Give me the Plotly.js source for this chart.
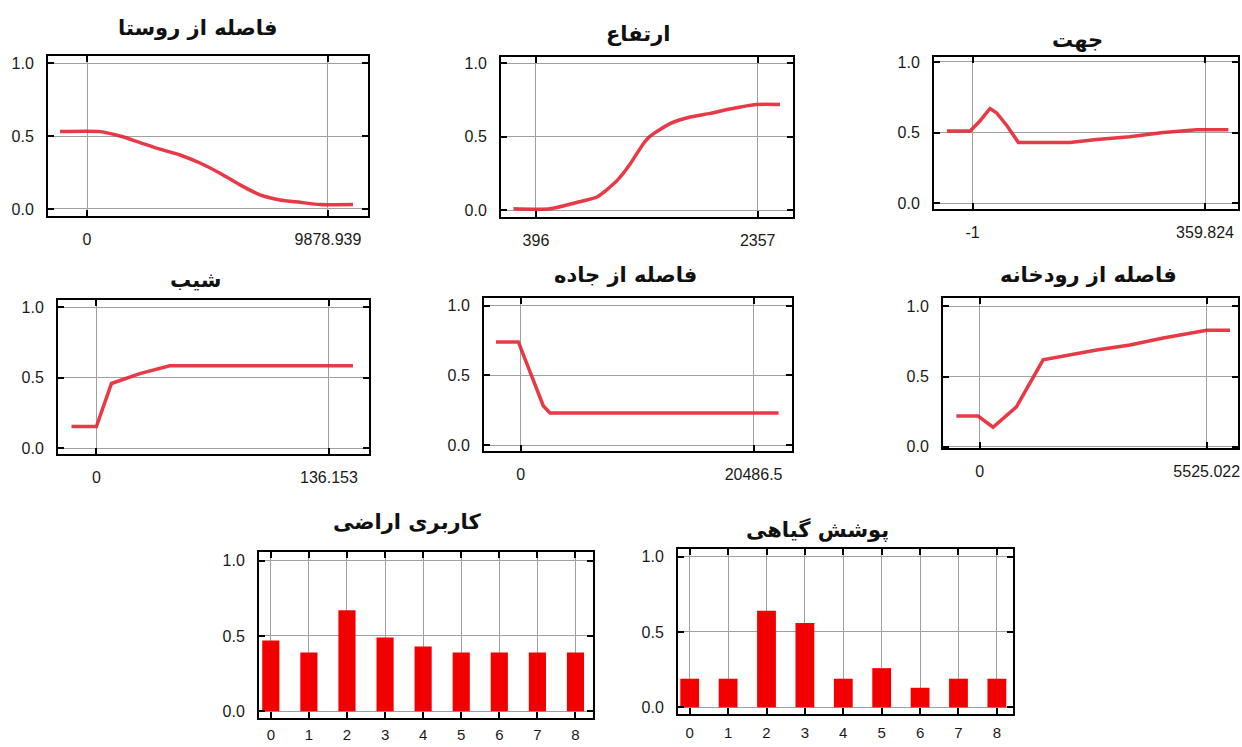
<!DOCTYPE html>
<html>
<head>
<meta charset="utf-8">
<script src="https://cdn.plot.ly/plotly-3.0.1.min.js"></script>
<style>html,body{margin:0;padding:0;background:#fff;}#chart{width:1242px;height:747px;}</style>
</head>
<body>
<div id="chart"></div>
<script>
// ---------- DATA ----------
const titles = ["فاصله از روستا", "ارتفاع", "جهت", "شیب", "فاصله از جاده", "فاصله از رودخانه", "کاربری اراضی", "پوشش گیاهی"];

const villageX = [-1107, 533, 1353, 2173, 2993, 3813, 4633, 5453, 6273, 7093, 7913, 8733, 9553, 10906];
const villageY = [0.53, 0.53, 0.50, 0.455, 0.41, 0.37, 0.315, 0.245, 0.165, 0.097, 0.062, 0.046, 0.03, 0.03];
const villageTicks = [0, 9878.939];
const villageTickText = ["0", "9878.939"];

const elevX = [198, 522, 817, 935, 1111, 1229, 1347, 1406, 1582, 1759, 1936, 2112, 2348, 2554];
const elevY = [0.01, 0.01, 0.065, 0.09, 0.2, 0.315, 0.455, 0.505, 0.59, 0.635, 0.66, 0.69, 0.72, 0.72];
const elevTicks = [396, 2357];
const elevTickText = ["396", "2357"];

const aspectX = [-41, -5, 10, 26, 36, 52, 70, 150, 192, 243, 295, 347, 396];
const aspectY = [0.51, 0.51, 0.58, 0.67, 0.64, 0.55, 0.43, 0.43, 0.45, 0.47, 0.50, 0.52, 0.52];
const aspectTicks = [-1, 359.824];
const aspectTickText = ["-1", "359.824"];

const slopeX = [-14.6, 0, 8.8, 25.4, 42.9, 150.2];
const slopeY = [0.155, 0.155, 0.46, 0.53, 0.585, 0.585];
const slopeTicks = [0, 136.153];
const slopeTickText = ["0", "136.153"];

const roadX = [-2175, -211, 1991, 2580, 22687];
const roadY = [0.74, 0.74, 0.28, 0.23, 0.23];
const roadTicks = [0, 20486.5];
const roadTickText = ["0", "20486.5"];

const riverX = [-568, -41, 324, 894, 1543, 2030, 2844, 3655, 4467, 5525, 6093];
const riverY = [0.22, 0.22, 0.14, 0.285, 0.62, 0.645, 0.69, 0.725, 0.775, 0.83, 0.83];
const riverTicks = [0, 5525.022];
const riverTickText = ["0", "5525.022"];

const classes = [0, 1, 2, 3, 4, 5, 6, 7, 8];
const landuseY = [0.47, 0.39, 0.67, 0.49, 0.43, 0.39, 0.39, 0.39, 0.39];
const vegY = [0.19, 0.19, 0.64, 0.56, 0.19, 0.26, 0.13, 0.19, 0.19];

const yTicks = [0, 0.5, 1];
const yTickText = ["0.0", "0.5", "1.0"];

// ---------- LAYOUT ----------
const W = 1242, H = 747;
// panel boxes in pixels: [left, right, top, bottom], plus axis ranges
const panels = [
  {box: [48, 368, 56, 216], xr: [-1600, 11520], yr: [-0.048, 1.048], tv: villageTicks, tt: villageTickText, title: [198, 28], xs: 8, xf: 16},
  {box: [501, 793, 57, 217], xr: [87, 2669], yr: [-0.046, 1.044], tv: elevTicks, tt: elevTickText, title: [639, 34], xs: 8, xf: 16},
  {box: [934, 1238, 57, 209], xr: [-61, 411], yr: [-0.042, 1.035], tv: aspectTicks, tt: aspectTickText, title: [1077, 40], xs: 8, xf: 16},
  {box: [58, 369, 300, 454], xr: [-22.5, 159.6], yr: [-0.04, 1.052], tv: slopeTicks, tt: slopeTickText, title: [195, 280], xs: 8, xf: 16},
  {box: [484, 792, 298, 451], xr: [-3232, 23867], yr: [-0.043, 1.055], tv: roadTicks, tt: roadTickText, title: [625, 275], xs: 8, xf: 16},
  {box: [943, 1238, 298, 448], xr: [-894, 6287], yr: [-0.008, 1.06], tv: riverTicks, tt: riverTickText, title: [1088, 275], xs: 8, xf: 16},
  {box: [259, 593, 552, 718], xr: [-0.31, 8.46], yr: [-0.044, 1.057], tv: classes, tt: classes.map(String), title: [407, 522], xs: 2, xf: 15},
  {box: [678, 1013, 549, 714], xr: [-0.305, 8.42], yr: [-0.044, 1.05], tv: classes, tt: classes.map(String), title: [817, 529], xs: 4, xf: 15}
];

const lineStyle = {color: 'rgba(230,30,45,0.88)', width: 3.5};
const lineData = [[villageX, villageY, 'spline'], [elevX, elevY, 'spline'], [aspectX, aspectY, 'linear'],
                  [slopeX, slopeY, 'linear'], [roadX, roadY, 'linear'], [riverX, riverY, 'linear']];

const traces = [];
lineData.forEach((d, i) => {
  const s = i === 0 ? '' : String(i + 1);
  traces.push({type: 'scatter', mode: 'lines', x: d[0], y: d[1], xaxis: 'x' + s, yaxis: 'y' + s,
    line: Object.assign({shape: d[2], smoothing: 0.6}, lineStyle), hoverinfo: 'skip'});
});
traces.push({type: 'bar', x: classes, y: landuseY, xaxis: 'x7', yaxis: 'y7', width: 0.45,
  marker: {color: '#f20000', line: {width: 0}}, hoverinfo: 'skip'});
traces.push({type: 'bar', x: classes, y: vegY, xaxis: 'x8', yaxis: 'y8', width: 0.49,
  marker: {color: '#f20000', line: {width: 0}}, hoverinfo: 'skip'});

const layout = {
  width: W, height: H, margin: {l: 0, r: 0, t: 0, b: 0},
  paper_bgcolor: '#ffffff', plot_bgcolor: '#ffffff', showlegend: false,
  font: {family: 'Liberation Sans, Arial, sans-serif', size: 16, color: '#1a1a1a'},
  annotations: []
};

panels.forEach((p, i) => {
  const s = i === 0 ? '' : String(i + 1);
  const [l, r, t, b] = p.box;
  layout['xaxis' + s] = {
    domain: [l / W, r / W], range: p.xr, anchor: 'y' + s,
    tickmode: 'array', tickvals: p.tv, ticktext: p.tt,
    showgrid: true, gridcolor: '#a0a0a0', gridwidth: 1, zeroline: false,
    showline: true, linecolor: '#000', linewidth: 2, mirror: 'ticks',
    ticks: 'inside', ticklen: 6, tickwidth: 2, tickcolor: '#000',
    tickfont: {family: 'Liberation Sans, Arial, sans-serif', size: p.xf, color: '#1a1a1a'},
    ticklabelstandoff: p.xs, fixedrange: true
  };
  layout['yaxis' + s] = {
    domain: [1 - b / H, 1 - t / H], range: p.yr, anchor: 'x' + s,
    tickmode: 'array', tickvals: yTicks, ticktext: yTickText,
    showgrid: true, gridcolor: '#a0a0a0', gridwidth: 1, zeroline: false,
    showline: true, linecolor: '#000', linewidth: 2, mirror: 'ticks',
    ticks: 'inside', ticklen: 6, tickwidth: 2, tickcolor: '#000',
    tickfont: {family: 'Liberation Sans, Arial, sans-serif', size: 16, color: '#1a1a1a'},
    ticklabelstandoff: 9, fixedrange: true
  };
  layout.annotations.push({
    text: '<b>' + titles[i] + '</b>', xref: 'paper', yref: 'paper',
    x: p.title[0] / W, y: 1 - p.title[1] / H, xanchor: 'center', yanchor: 'middle',
    showarrow: false, font: {family: 'DejaVu Sans, Noto Sans, sans-serif', size: 21, color: '#111'}
  });
});

Plotly.newPlot('chart', traces, layout, {staticPlot: true, displayModeBar: false});
</script>
</body>
</html>
